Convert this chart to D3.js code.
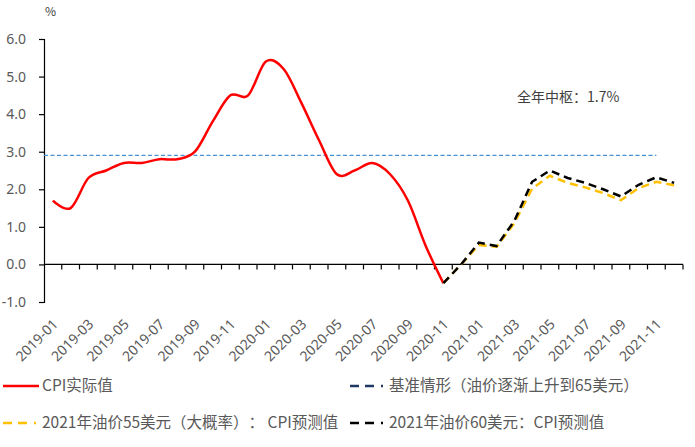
<!DOCTYPE html>
<html>
<head>
<meta charset="utf-8">
<script src="https://cdn.jsdelivr.net/npm/d3@7"></script>
<style>
  body { margin: 0; background: #fff; }
  svg { display: block; font-family: "Noto Sans CJK SC", "Noto Sans", sans-serif; }
  svg text { text-spacing-trim: space-all; font-kerning: none; }
</style>
</head>
<body>
<svg width="695" height="447"></svg>
<script>
// Categories (monthly)
const months = [
  "2019-01","2019-02","2019-03","2019-04","2019-05","2019-06","2019-07","2019-08","2019-09","2019-10","2019-11","2019-12",
  "2020-01","2020-02","2020-03","2020-04","2020-05","2020-06","2020-07","2020-08","2020-09","2020-10","2020-11","2020-12",
  "2021-01","2021-02","2021-03","2021-04","2021-05","2021-06","2021-07","2021-08","2021-09","2021-10","2021-11","2021-12"
];

// CPI actual, 2019-01 .. 2020-11
const cpiActual = [1.7, 1.5, 2.3, 2.5, 2.7, 2.7, 2.8, 2.8, 3.0, 3.8, 4.5, 4.5,
                   5.4, 5.2, 4.3, 3.3, 2.4, 2.5, 2.7, 2.4, 1.7, 0.5, -0.5];

// Forecasts, 2020-11 .. 2021-12
const forecastMonths = months.slice(22);
const forecast55 = [-0.5, 0.0, 0.52, 0.47, 1.1, 2.02, 2.36, 2.17, 2.05, 1.9, 1.71, 2.03, 2.2, 2.11];
const forecast60 = [-0.5, 0.0, 0.58, 0.49, 1.16, 2.2, 2.5, 2.3, 2.17, 2.0, 1.81, 2.12, 2.32, 2.17];

// Baseline scenario, flat through 2021-11
const baselineMonths = months.slice(0, 35);
const baselineValue = 2.9;

const yTicks = [-1, 0, 1, 2, 3, 4, 5, 6];
const xTickLabels = months.filter((d, i) => i % 2 === 0);

const legendItems = [
  { label: "CPI实际值", color: "#FF0000", dash: null, col: 0, row: 0 },
  { label: "基准情形（油价逐渐上升到65美元）", color: "#1F3864", dash: "9,6,9,7,2", col: 1, row: 0 },
  { label: "2021年油价55美元（大概率）： CPI预测值", color: "#FFC000", dash: "9,6,9,7,2", col: 0, row: 1 },
  { label: "2021年油价60美元：CPI预测值", color: "#000000", dash: "9,6,9,7,2", col: 1, row: 1 }
];

const svg = d3.select("svg");

const x = d3.scaleBand().domain(months).range([44, 683]);
const y = d3.scaleLinear().domain([-1, 6]).range([302, 39]);
const cx = d => x(d) + x.bandwidth() / 2;

// Y axis
const yAxis = svg.append("g")
  .attr("transform", `translate(${x.range()[0]},0)`)
  .call(d3.axisLeft(y).tickValues(yTicks).tickSize(5).tickPadding(13).tickFormat(d => d.toFixed(1)));
yAxis.selectAll("line, path").attr("stroke", "#000").attr("stroke-width", 1.2);
yAxis.selectAll("text").attr("fill", "#595959").style("font-size", "14px").style("font-family", "'Noto Sans', sans-serif");

// X axis at zero with boundary ticks
const xAxis = svg.append("g").attr("transform", `translate(0,${y(0)})`);
xAxis.append("line")
  .attr("x1", x.range()[0]).attr("x2", x.range()[1])
  .attr("stroke", "#000").attr("stroke-width", 1.2);
xAxis.selectAll(".tk")
  .data(months.slice(1).map(d => x(d)).concat([x.range()[1]]))
  .enter().append("line")
  .attr("x1", d => d).attr("x2", d => d)
  .attr("y1", 0).attr("y2", 5)
  .attr("stroke", "#000").attr("stroke-width", 1.2);

// X labels at the bottom of the plot
svg.append("g").selectAll("text")
  .data(xTickLabels)
  .enter().append("text")
  .attr("transform", d => `translate(${cx(d) + 6},${y(-1) + 23}) rotate(-45)`)
  .attr("text-anchor", "end")
  .attr("fill", "#595959")
  .style("font-size", "14px")
  .style("font-family", "'Noto Sans', sans-serif")
  .text(d => d);

// Baseline
svg.append("path")
  .attr("d", d3.line()([[x.range()[0], y(baselineValue)], ...baselineMonths.map(d => [cx(d), y(baselineValue)])]))
  .attr("fill", "none")
  .attr("stroke", "#4A92D6")
  .attr("stroke-width", 1.3)
  .attr("stroke-dasharray", "4,2.5");

// Actual CPI
svg.append("path")
  .datum(cpiActual)
  .attr("d", d3.line().x((d, i) => cx(months[i])).y(d => y(d)).curve(d3.curveCardinal.tension(0)))
  .attr("fill", "none")
  .attr("stroke", "#FF0000")
  .attr("stroke-width", 2.5);

// Forecasts
const fLine = d3.line().x((d, i) => cx(forecastMonths[i])).y(d => y(d));
svg.append("path")
  .datum(forecast55)
  .attr("d", fLine)
  .attr("fill", "none")
  .attr("stroke", "#FFC000")
  .attr("stroke-width", 2.5)
  .attr("stroke-dasharray", "8,5");
svg.append("path")
  .datum(forecast60)
  .attr("d", fLine)
  .attr("fill", "none")
  .attr("stroke", "#000000")
  .attr("stroke-width", 2.5)
  .attr("stroke-dasharray", "8,5");

// Unit label
svg.append("text")
  .attr("x", 45).attr("y", 16)
  .attr("fill", "#404040")
  .style("font-size", "12px")
  .text("%");

// Annotation
svg.append("text")
  .attr("x", 517).attr("y", 102)
  .attr("fill", "#404040")
  .style("font-size", "14px")
  .text("全年中枢：1.7%");

// Legend
const colX = [3, 350];
const rowY = [386, 423];
const lg = svg.append("g").selectAll("g")
  .data(legendItems)
  .enter().append("g")
  .attr("transform", d => `translate(${colX[d.col]},${rowY[d.row]})`);
lg.append("line")
  .attr("x1", 0).attr("x2", 36)
  .attr("stroke", d => d.color)
  .attr("stroke-width", 2.5)
  .attr("stroke-dasharray", d => d.dash);
lg.append("text")
  .attr("x", 39).attr("dy", "0.35em")
  .attr("fill", "#595959")
  .style("font-size", "15.5px")
  .text(d => d.label);
</script>
</body>
</html>
